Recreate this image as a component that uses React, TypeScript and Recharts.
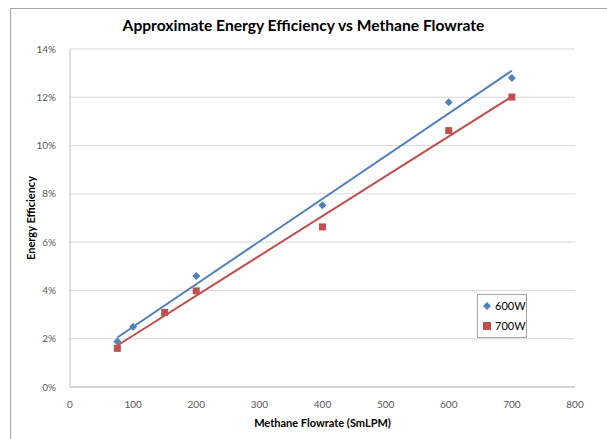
import {
  CartesianGrid,
  ComposedChart,
  Line,
  Scatter,
  XAxis,
  YAxis
} from "recharts";

const xTicks = [0, 100, 200, 300, 400, 500, 600, 700, 800];
const yTicks = [0, 2, 4, 6, 8, 10, 12, 14];

const flow600 = [75, 100, 200, 400, 600, 700];
const eff600 = [1.88, 2.5, 4.6, 7.53, 11.79, 12.8];
const flow700 = [75, 150, 200, 400, 600, 700];
const eff700 = [1.6, 3.09, 3.98, 6.63, 10.62, 12.01];

// trendline ends
const trendX = [75, 700];
const trend600 = [2.05, 13.1];
const trend700 = [1.72, 12.03];

const BLUE = "#4F81BD";
const RED = "#C0504D";
const FONT = "Lato, 'Open Sans', sans-serif";

const zip = (xs: number[], ys: number[]) => xs.map((x, i) => ({ x, y: ys[i] }));

const pts600 = zip(flow600, eff600);
const pts700 = zip(flow700, eff700);
const line600 = zip(trendX, trend600);
const line700 = zip(trendX, trend700);

const Diamond = (p: any) => {
  const { cx, cy } = p;
  const r = 4;
  return (
    <polygon
      points={`${cx},${cy - r} ${cx + r},${cy} ${cx},${cy + r} ${cx - r},${cy}`}
      fill={BLUE}
    />
  );
};

const Square = (p: any) => {
  const { cx, cy } = p;
  return <rect x={cx - 3.5} y={cy - 3.5} width={7} height={7} fill={RED} />;
};

export default function App() {
  return (
    <div
      style={{
        position: "absolute",
        left: 0,
        top: 0,
        width: 607,
        height: 439,
        background: "#fff",
        overflow: "hidden",
        fontFamily: FONT
      }}
    >
      <div
        style={{
          position: "absolute",
          left: 10,
          top: 8,
          width: 640,
          height: 480,
          border: "1px solid #a6a6a6"
        }}
      />
      <div
        style={{
          position: "absolute",
          left: 0,
          width: 607,
          top: 16,
          textAlign: "center",
          fontWeight: 700,
          fontSize: 15.6,
          color: "#000"
        }}
      >
        Approximate Energy Efficiency vs Methane Flowrate
      </div>
      <div
        style={{
          position: "absolute",
          left: 70,
          width: 505,
          top: 416,
          textAlign: "center",
          fontWeight: 700,
          fontSize: 11,
          color: "#000"
        }}
      >
        Methane Flowrate (SmLPM)
      </div>
      <div
        style={{
          position: "absolute",
          left: 30,
          top: 218,
          transform: "translate(-50%, -50%) rotate(-90deg)",
          whiteSpace: "nowrap",
          fontWeight: 700,
          fontSize: 11,
          color: "#000"
        }}
      >
        Energy Efficiency
      </div>
      <div style={{ position: "absolute", left: 0, top: 0 }}>
        <ComposedChart
          width={607}
          height={439}
          margin={{ top: 49, right: 32, bottom: 22, left: 21 }}
        >
          <CartesianGrid vertical={false} stroke="#d9d9d9" />
          <XAxis
            type="number"
            dataKey="x"
            domain={[0, 800]}
            ticks={xTicks}
            height={30}
            tickLine={false}
            axisLine={{ stroke: "#bfbfbf" }}
            tick={{ fontSize: 10, fill: "#595959", fontFamily: FONT }}
            tickMargin={8}
            allowDuplicatedCategory={false}
          />
          <YAxis
            type="number"
            dataKey="y"
            domain={[0, 14]}
            ticks={yTicks}
            width={49}
            tickLine={false}
            axisLine={{ stroke: "#bfbfbf" }}
            tickFormatter={(v: number) => `${v}%`}
            tick={{ fontSize: 10, fill: "#595959", fontFamily: FONT }}
            tickMargin={8}
          />
          <Line
            data={line600}
            dataKey="y"
            type="linear"
            stroke={BLUE}
            strokeWidth={2}
            dot={false}
            activeDot={false}
            isAnimationActive={false}
          />
          <Line
            data={line700}
            dataKey="y"
            type="linear"
            stroke={RED}
            strokeWidth={2}
            dot={false}
            activeDot={false}
            isAnimationActive={false}
          />
          <Scatter
            name="600W"
            data={pts600}
            dataKey="y"
            shape={Diamond}
            isAnimationActive={false}
          />
          <Scatter
            name="700W"
            data={pts700}
            dataKey="y"
            shape={Square}
            isAnimationActive={false}
          />
        </ComposedChart>
      </div>
      <div
        style={{
          position: "absolute",
          left: 477,
          top: 294,
          width: 48,
          height: 42,
          border: "1px solid #a6a6a6",
          background: "#fff",
          fontSize: 11,
          color: "#000"
        }}
      >
        <div style={{ position: "absolute", left: 5, top: 4, display: "flex", alignItems: "center" }}>
          <svg width={8} height={8} style={{ marginRight: 4 }}>
            <polygon points="4,0 8,4 4,8 0,4" fill={BLUE} />
          </svg>
          600W
        </div>
        <div style={{ position: "absolute", left: 5, top: 24, display: "flex", alignItems: "center" }}>
          <svg width={8} height={8} style={{ marginRight: 4 }}>
            <rect x={0} y={0} width={8} height={8} fill={RED} />
          </svg>
          700W
        </div>
      </div>
    </div>
  );
}
